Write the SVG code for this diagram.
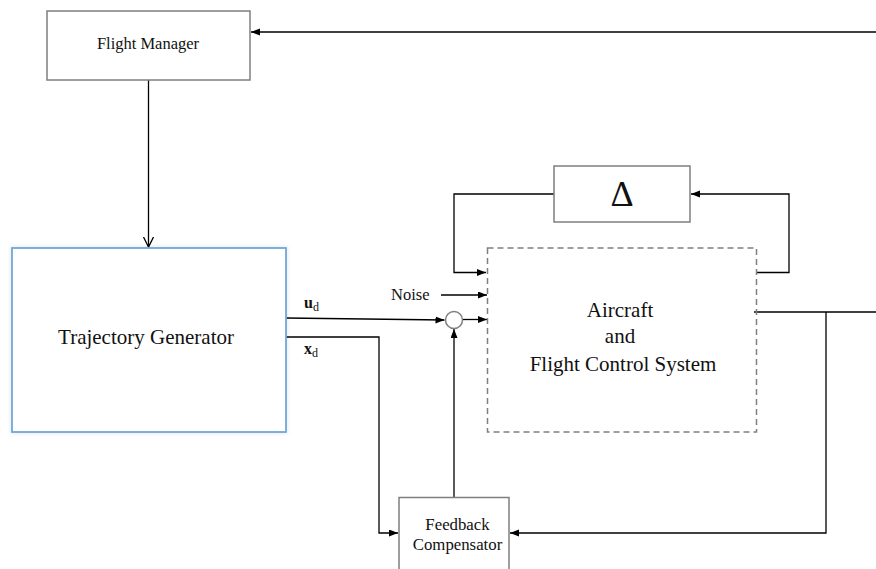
<svg xmlns="http://www.w3.org/2000/svg" width="876" height="569" viewBox="0 0 876 569">
  <style>
    .box { fill: #ffffff; stroke: #7f7f7f; stroke-width: 1.5; }
    .dash { fill: none; stroke: #7f7f7f; stroke-width: 1.5; stroke-dasharray: 6 4; }
    .tg { fill: #ffffff; stroke: #6fa8dc; stroke-width: 1.8; }
    .wire { fill: none; stroke: #000000; stroke-width: 1.3; }
    .lbl { font-family: "Liberation Serif", "Times New Roman", serif; fill: #111111; text-anchor: middle; }
  </style>
  <defs>
    <marker id="arr" markerUnits="userSpaceOnUse" markerWidth="10" markerHeight="8" refX="9" refY="3.5" orient="auto">
      <path d="M0,0 L9,3.5 L0,7 z" fill="#000000"/>
    </marker>
    <marker id="vee" markerUnits="userSpaceOnUse" markerWidth="12" markerHeight="12" refX="10" refY="5" orient="auto">
      <path d="M0,0 L10,5 L0,10" fill="none" stroke="#000000" stroke-width="1.3"/>
    </marker>
    <filter id="soft" x="-5%" y="-5%" width="110%" height="110%">
      <feDropShadow dx="0" dy="0" stdDeviation="2" flood-color="#000000" flood-opacity="0.12"/>
    </filter>
  </defs>

  <rect width="876" height="569" fill="#ffffff"/>

  <g id="connectors">
    <!-- return path into Flight Manager -->
    <line class="wire" x1="876" y1="32" x2="251" y2="32" marker-end="url(#arr)"/>
    <!-- Flight Manager to Trajectory Generator -->
    <line class="wire" x1="148.5" y1="80" x2="148.5" y2="247" marker-end="url(#vee)"/>
    <!-- u_d to summing junction -->
    <line class="wire" x1="286" y1="318" x2="444.5" y2="320" marker-end="url(#arr)"/>
    <!-- junction output to plant -->
    <line class="wire" x1="463" y1="319.5" x2="487" y2="319.5" marker-end="url(#arr)"/>
    <!-- noise input -->
    <line class="wire" x1="441" y1="295" x2="487" y2="295" marker-end="url(#arr)"/>
    <!-- x_d to Feedback Compensator -->
    <polyline class="wire" points="286,337 379,337 379,533 398,533" marker-end="url(#arr)"/>
    <!-- Feedback Compensator up to junction -->
    <line class="wire" x1="454" y1="497" x2="454" y2="329" marker-end="url(#arr)"/>
    <!-- Delta loop -->
    <polyline class="wire" points="554,194 454,194 454,272.5 486,272.5" marker-end="url(#arr)"/>
    <polyline class="wire" points="756,272.5 789,272.5 789,194 691,194" marker-end="url(#arr)"/>
    <!-- plant output and feedback -->
    <line class="wire" x1="754" y1="312" x2="876" y2="312"/>
    <polyline class="wire" points="826,312 826,533 510,533" marker-end="url(#arr)"/>
  </g>

  <g id="flight-manager">
    <rect class="box" x="47" y="11" width="203" height="69"/>
    <text class="lbl" x="148" y="49" font-size="16.5">Flight Manager</text>
  </g>

  <g id="trajectory-generator">
    <rect class="tg" x="12" y="248" width="274" height="184" filter="url(#soft)"/>
    <text class="lbl" x="146" y="344" font-size="21">Trajectory Generator</text>
  </g>

  <g id="signal-labels">
    <text x="304" y="308" font-family="Liberation Serif, serif" font-size="16" font-weight="bold" fill="#111111">u<tspan font-size="12" font-weight="normal" dy="3">d</tspan></text>
    <text x="304" y="354" font-family="Liberation Serif, serif" font-size="16" font-weight="bold" fill="#111111">x<tspan font-size="12" font-weight="normal" dy="3">d</tspan></text>
    <text x="391" y="300" font-family="Liberation Serif, serif" font-size="16.5" fill="#111111">Noise</text>
  </g>

  <g id="summing-junction">
    <circle cx="454" cy="320" r="8.5" fill="#ffffff" stroke="#7f7f7f" stroke-width="1.5"/>
  </g>

  <g id="delta">
    <rect class="box" x="554" y="166" width="136" height="56"/>
    <text class="lbl" x="622" y="206" font-size="36">Δ</text>
  </g>

  <g id="aircraft-fcs">
    <rect class="dash" x="487.5" y="248" width="269" height="184"/>
    <text class="lbl" x="620" y="317" font-size="21">Aircraft</text>
    <text class="lbl" x="620" y="343" font-size="21">and</text>
    <text class="lbl" x="623" y="371" font-size="21">Flight Control System</text>
  </g>

  <g id="feedback-compensator">
    <rect class="box" x="399" y="497.5" width="110" height="76"/>
    <text class="lbl" x="457.5" y="530" font-size="16.8">Feedback</text>
    <text class="lbl" x="457.5" y="550" font-size="16.8">Compensator</text>
  </g>
</svg>
